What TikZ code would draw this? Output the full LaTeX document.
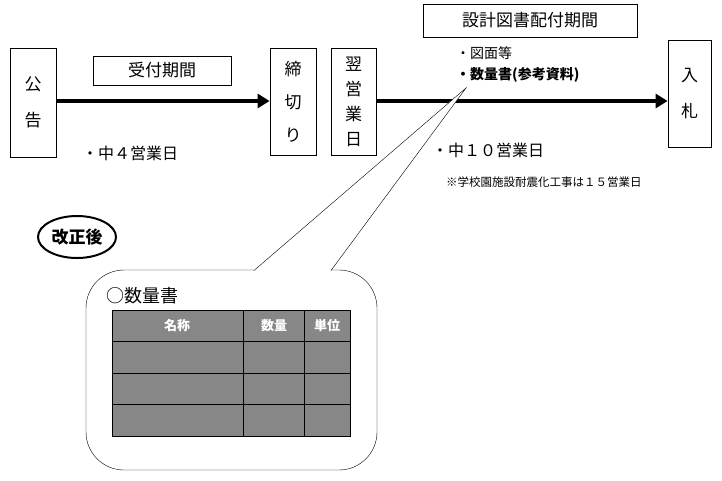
\documentclass[tikz,border=0pt]{standalone}
\usepackage{fontspec}
\setmainfont{Noto Sans CJK JP}
\usetikzlibrary{arrows.meta, positioning, shapes.geometric}

\begin{document}
\begin{tikzpicture}[x=1pt, y=-1pt,
    stage/.style={rectangle, draw, thick, inner sep=0pt, align=center, font=\fontsize{17}{36}\selectfont},
    title/.style={rectangle, draw, inner sep=0pt, font=\fontsize{17}{20}\selectfont},
    note/.style={anchor=west, inner sep=0pt, font=\fontsize{16}{18}\selectfont},
    flow/.style={-{Triangle[length=12pt, width=14pt]}, line width=4.5pt},
    cell/.style={draw=black, fill=black!47, thick}]
    \useasboundingbox (0,0) rectangle (722,480);

        \node[stage, minimum width=46pt, minimum height=109pt] (kokoku) at (33,102.5) {公\\告};
        \node[stage, minimum width=46pt, minimum height=107pt, font=\fontsize{17}{33}\selectfont] (shimekiri) at (293,101.5) {締\\切\\り};
        \node[stage, minimum width=45pt, minimum height=107pt, font=\fontsize{17}{25}\selectfont] (yokujitsu) at (353.5,101.5) {翌\\営\\業\\日};
        \node[stage, minimum width=43pt, minimum height=107pt] (nyusatsu) at (689.5,93.5) {入\\札};

        \node[title, minimum width=138pt, minimum height=29pt] (uketsuke) at (162,70.5) {受付期間};
        \node[title, minimum width=214pt, minimum height=33pt] (haifu) at (530,20.5) {設計図書配付期間};

        \draw[flow] (kokoku.east |- 0,101) -- (shimekiri.west |- 0,101);
        \draw[flow] (yokujitsu.east |- 0,101) -- (nyusatsu.west |- 0,101);

        \node[note, font=\fontsize{14}{16}\selectfont] (zumen) at (456,53) {・図面等};
        \node[note, font=\bfseries\fontsize{14}{16}\selectfont] (suryo) at (456,75) {・数量書(参考資料)};
        \node[note] (naka4) at (82,153) {・中４営業日};
        \node[note] (naka10) at (432,150) {・中１０営業日};
        \node[note, font=\fontsize{11.5}{13}\selectfont] (chuki) at (446,182) {※学校園施設耐震化工事は１５営業日};

        \node[ellipse, draw, line width=2pt, minimum width=78pt, minimum height=42pt, inner sep=0pt,
            font=\bfseries\fontsize{17}{19}\selectfont] (kaisei) at (77,237) {改正後};

        % callout
        \node[draw, rounded corners=38pt, minimum width=291pt, minimum height=200pt] (balloon) at (231.5,370) {};
        \coordinate (tip) at (466,88);
        \fill[white] (254,269) -- (tip) -- (331,269) -- (331,272) -- (254,272) -- cycle;
        \draw (254,270.5) -- (tip) -- (331,270.5);

        \node[note, font=\fontsize{18}{20}\selectfont] (maru) at (106,296) {○数量書};

        % table
        \foreach \y in {310,341.5,373,404.5} {
            \draw[cell] (112,\y) rectangle (243.5,\y+31.5);
            \draw[cell] (243.5,\y) rectangle (304.5,\y+31.5);
            \draw[cell] (304.5,\y) rectangle (350,\y+31.5);
        }
        \node[white, font=\bfseries\fontsize{13}{15}\selectfont] (meisho) at (177,326) {名称};
        \node[white, font=\bfseries\fontsize{13}{15}\selectfont] (suryoh) at (274,326) {数量};
        \node[white, font=\bfseries\fontsize{13}{15}\selectfont] (tani) at (327,326) {単位};

\end{tikzpicture}
\end{document}
